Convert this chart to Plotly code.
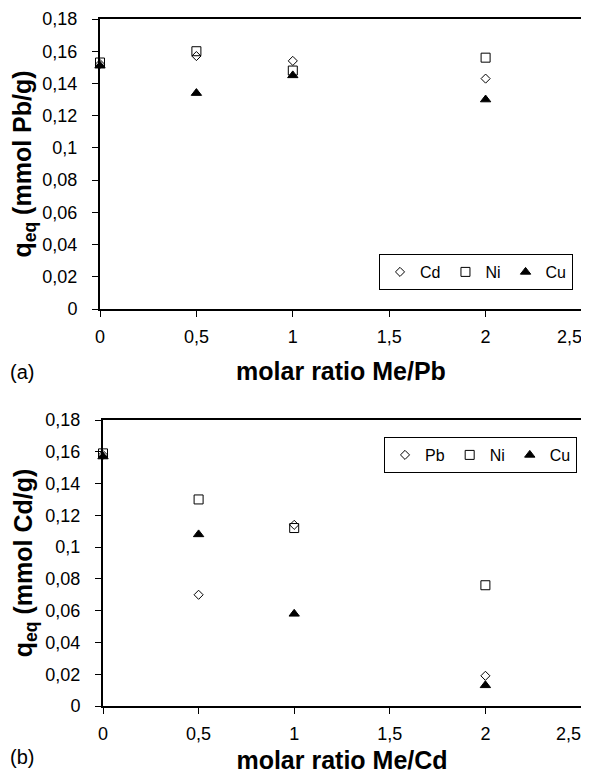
import plotly.graph_objects as go
from plotly.subplots import make_subplots

# ---------------- data ----------------
ratio = [0, 0.5, 1, 2]

# (a) Pb uptake in presence of competing metal
a_Cd = [0.152, 0.157, 0.154, 0.143]
a_Ni = [0.153, 0.160, 0.148, 0.156]
a_Cu = [0.151, 0.134, 0.145, 0.130]

# (b) Cd uptake in presence of competing metal
b_Pb = [0.158, 0.070, 0.114, 0.019]
b_Ni = [0.159, 0.130, 0.112, 0.076]
b_Cu = [0.157, 0.108, 0.058, 0.013]

y_tickvals = [0, 0.02, 0.04, 0.06, 0.08, 0.1, 0.12, 0.14, 0.16, 0.18]
y_ticktext = ["0", "0,02", "0,04", "0,06", "0,08", "0,1", "0,12", "0,14", "0,16", "0,18"]
x_tickvals = [0, 0.5, 1, 1.5, 2, 2.5]
x_ticktext = ["0", "0,5", "1", "1,5", "2",
              "2,5<span style='color:white'>00,</span>"]

# ---------------- figure ----------------
# the page body has an 8px default margin, so the figure is drawn 8px in
OFF = 8
W, H = 589 - OFF, 777 - OFF
ML, MR, MT, MB = 92, 7, 11, 71
PW = W - ML - MR
PH = H - MT - MB

def fy(px):  # absolute window pixel -> paper fraction
    return (H - MB - (px - OFF)) / PH

def fx(px):
    return (px - OFF - ML) / PW

fig = make_subplots(rows=2, cols=1)

FONT = "Liberation Sans, Arial, Helvetica, sans-serif"

def add(x, y, name, symbol, size, row, legend):
    fig.add_trace(go.Scatter(
        x=x, y=y, mode="markers", name=name,
        marker=dict(symbol=symbol, size=size, color="black",
                    line=dict(color="black", width=1)),
        cliponaxis=False, legend=legend,
    ), row=row, col=1)

add(ratio, a_Cd, "Cd", "diamond-open", 7, 1, "legend")
add(ratio, a_Ni, "Ni", "square-open", 9, 1, "legend")
add(ratio, a_Cu, "Cu", "triangle-up", 9, 1, "legend")

add(ratio, b_Pb, "Pb", "diamond-open", 7, 2, "legend2")
add(ratio, b_Ni, "Ni", "square-open", 9, 2, "legend2")
add(ratio, b_Cu, "Cu", "triangle-up", 9, 2, "legend2")

axis_common = dict(
    showline=True, linecolor="black", linewidth=2, mirror=True,
    showgrid=False, zeroline=False, ticks="outside", ticklen=6,
    tickcolor="black", tickwidth=1, automargin=False,
    tickfont=dict(family=FONT, size=18, color="black"),
)

fig.update_xaxes(**axis_common, range=[0, 2.5], tickvals=x_tickvals,
                 ticktext=x_ticktext, ticklabelstandoff=4,
                 ticklabeloverflow="allow")
fig.update_yaxes(**axis_common, range=[0, 0.18], tickvals=y_tickvals,
                 ticktext=y_ticktext, ticklabelstandoff=11)

title_font = dict(family=FONT, size=25, color="black")
ytitle_font = dict(family=FONT, size=25, color="black")

fig.update_layout(
    xaxis=dict(domain=[fx(100), fx(582)], anchor="y",
               title=dict(text="<b>molar ratio Me/Pb</b>", font=title_font, standoff=17)),
    yaxis=dict(domain=[fy(309), fy(19)], anchor="x",
               title=dict(text="<b>q<sub>eq</sub> (mmol Pb/g)</b>", font=ytitle_font, standoff=6)),
    xaxis2=dict(domain=[fx(103), fx(581)], anchor="y2",
                title=dict(text="<b>molar ratio Me/Cd</b>", font=title_font, standoff=9)),
    yaxis2=dict(domain=[fy(706), fy(420)], anchor="x2",
                title=dict(text="<b>q<sub>eq</sub> (mmol Cd/g)</b>", font=ytitle_font, standoff=6)),
)

legend_common = dict(
    orientation="h", xanchor="right", yanchor="top",
    bgcolor="white", bordercolor="black", borderwidth=1,
    font=dict(family=FONT, size=16, color="black"),
    itemwidth=30, traceorder="normal",
)

fig.update_layout(
    template="none",
    width=W, height=H,
    margin=dict(l=ML, r=MR, t=MT, b=MB),
    paper_bgcolor="white", plot_bgcolor="white",
    showlegend=True,
    legend=dict(**legend_common, x=fx(573), y=fy(254)),
    legend2=dict(**legend_common, x=fx(577), y=fy(437)),
    font=dict(family=FONT, color="black"),
    annotations=[
        dict(text="(a)", x=fx(OFF), y=fy(372), xref="paper", yref="paper",
             xanchor="left", yanchor="middle", showarrow=False,
             font=dict(family=FONT, size=20, color="black")),
        dict(text="(b)", x=fx(OFF), y=fy(757), xref="paper", yref="paper",
             xanchor="left", yanchor="middle", showarrow=False,
             font=dict(family=FONT, size=20, color="black")),
    ],
)

fig.write_html("out.html")
